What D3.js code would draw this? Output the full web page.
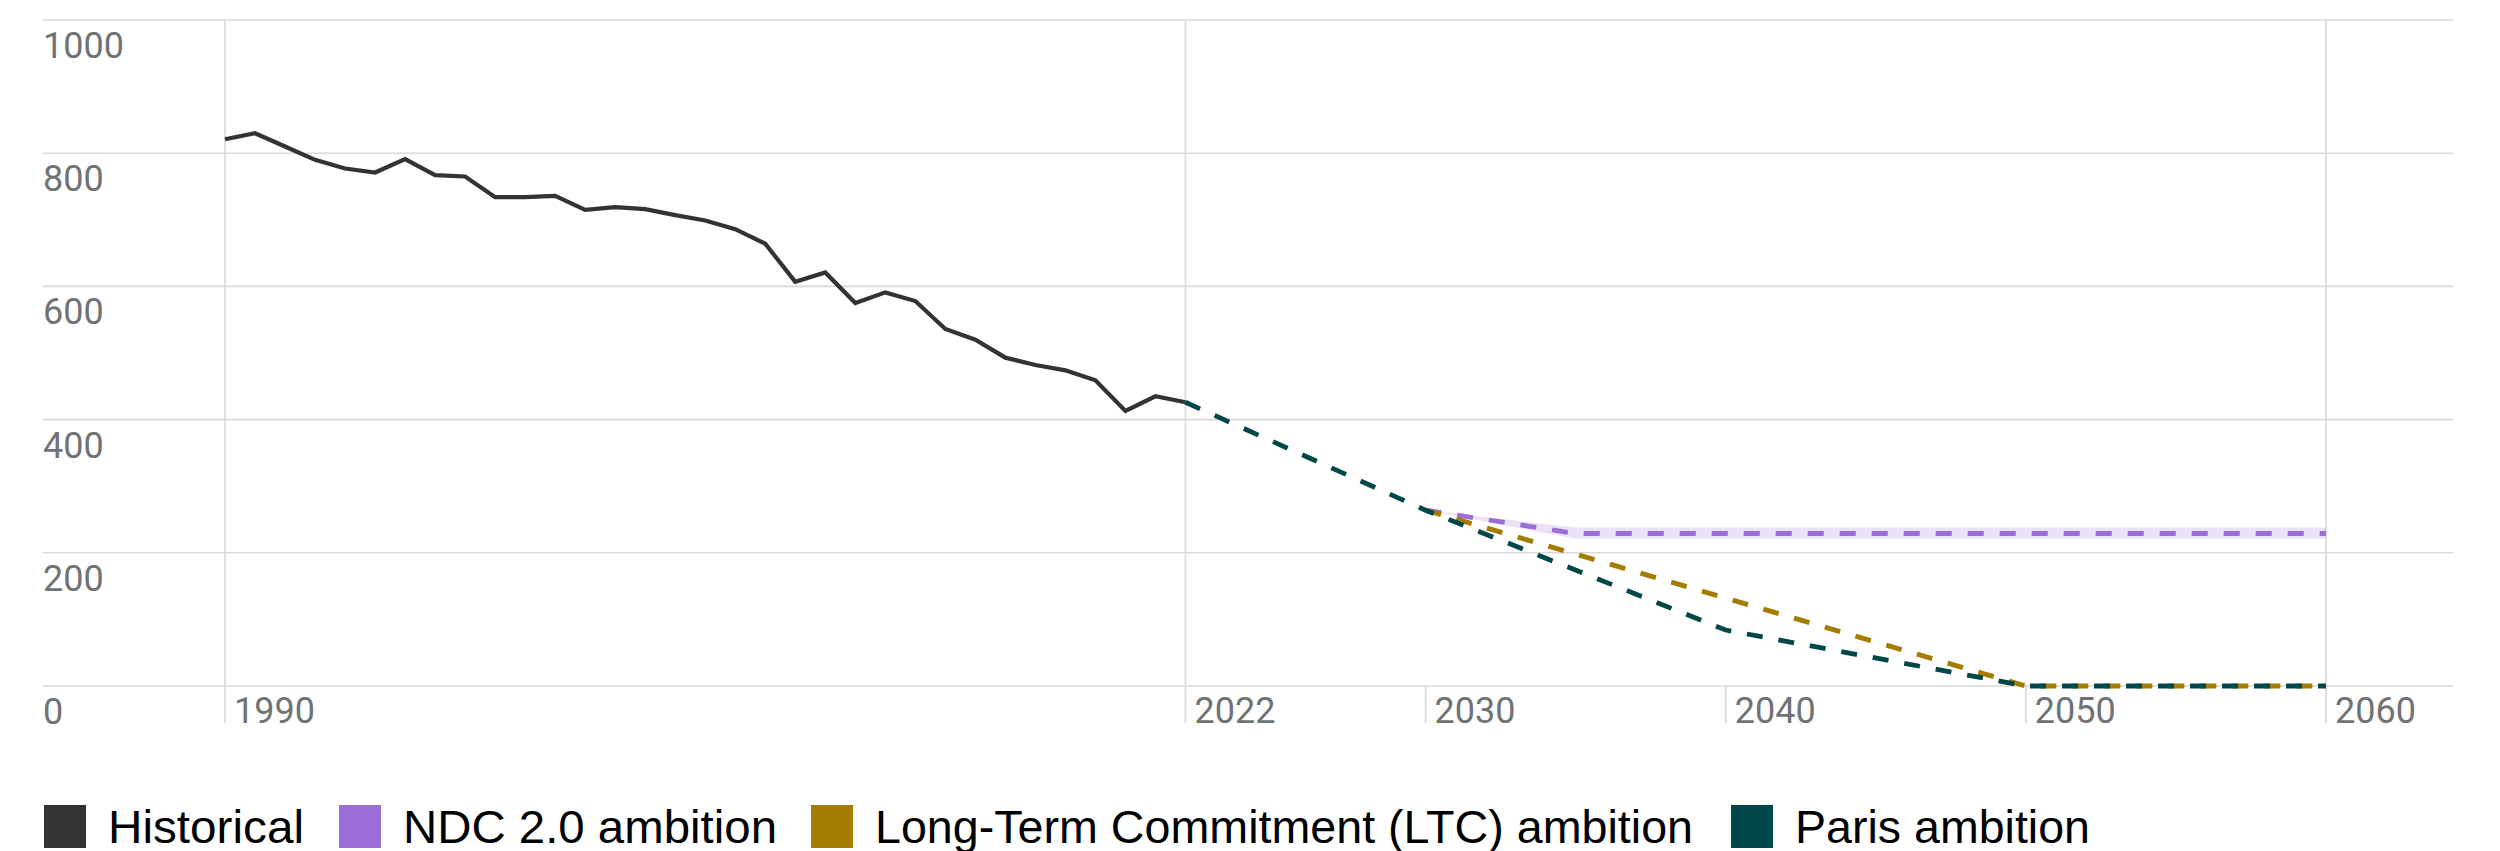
<!DOCTYPE html>
<html>
<head>
<meta charset="utf-8">
<script src="https://cdn.jsdelivr.net/npm/d3@7"></script>
<style>
  html, body { margin: 0; padding: 0; background: #fff; }
  svg { display: block; }
</style>
</head>
<body>
<svg id="chart" width="2500" height="851"></svg>
<script>
// ---- Data ----
const histYears = [1990,1991,1992,1993,1994,1995,1996,1997,1998,1999,2000,2001,2002,2003,2004,2005,2006,2007,2008,2009,2010,2011,2012,2013,2014,2015,2016,2017,2018,2019,2020,2021,2022];
const histValues = [821,830,810,790,777,771,791,767,765,734,734,736,715,719,716,707,699,686,664,607,621,575,591,578,536,520,493,482,474,459,413,435,426];

const parisYears = [2022, 2030, 2040, 2050, 2060];
const parisValues = [426, 264, 84, 0, 0];

const ltcYears = [2030, 2050, 2060];
const ltcValues = [264, 0, 0];

const ndcYears = [2030, 2035, 2060];
const ndcValues = [264, 229, 229];
const ndcLow = [264, 221, 221];
const ndcHigh = [264, 238, 238];

const yTicks = [0, 200, 400, 600, 800, 1000];
const xTicks = [1990, 2022, 2030, 2040, 2050, 2060];
const xFullLines = [1990, 2022, 2060];

const legendLabels = ["Historical", "NDC 2.0 ambition", "Long-Term Commitment (LTC) ambition", "Paris ambition"];
const legendColors = ["#333333", "#9b6dd6", "#a37c00", "#00474a"];

// ---- Layout (pixels) ----
const legendSquareX = [44, 339, 811, 1731];
const legendTextWidth = [196, 374, 818, 295];

// ---- Scales ----
const svg = d3.select("#chart");
const x = d3.scaleLinear().domain([1990, 2060]).range([225, 2326]);
const y = d3.scaleLinear().domain([0, 1000]).range([686, 20]);
const gridLeft = 43, gridRight = 2453;
const tickBottom = 723;
const gridColor = "#d9d9d9";
const tickFont = "Roboto, 'Open Sans', sans-serif";
const tickColor = "#707376";

// ---- Horizontal gridlines & y labels ----
const yAxis = svg.append("g");
yAxis.selectAll("line").data(yTicks).join("line")
  .attr("x1", gridLeft).attr("x2", gridRight)
  .attr("y1", d => y(d)).attr("y2", d => y(d))
  .attr("stroke", gridColor).attr("stroke-width", 1.6);
yAxis.selectAll("text").data(yTicks).join("text")
  .attr("x", gridLeft).attr("y", d => y(d) + 38)
  .attr("font-family", tickFont).attr("font-size", 36)
  .attr("fill", tickColor)
  .text(d => d);

// ---- Vertical lines / x ticks ----
const xAxis = svg.append("g");
xAxis.selectAll("line").data(xTicks).join("line")
  .attr("x1", d => x(d)).attr("x2", d => x(d))
  .attr("y1", d => xFullLines.includes(d) ? y(1000) : y(0))
  .attr("y2", tickBottom)
  .attr("stroke", gridColor).attr("stroke-width", 1.6);
xAxis.selectAll("text").data(xTicks).join("text")
  .attr("x", d => x(d) + 9).attr("y", tickBottom)
  .attr("font-family", tickFont).attr("font-size", 36)
  .attr("fill", tickColor)
  .text(d => d);

// ---- NDC band ----
const ndcBand = ndcYears.map((yr, i) => ({yr, lo: ndcLow[i], hi: ndcHigh[i]}));
svg.append("path")
  .datum(ndcBand)
  .attr("d", d3.area().x(d => x(d.yr)).y0(d => y(d.lo)).y1(d => y(d.hi)))
  .attr("fill", "#9b6dd6").attr("fill-opacity", 0.2);

// ---- Lines ----
const lineGen = d3.line().x(d => x(d[0])).y(d => y(d[1]));
const zip = (a, b) => a.map((v, i) => [v, b[i]]);

svg.append("path").datum(zip(histYears, histValues))
  .attr("d", lineGen).attr("fill", "none")
  .attr("stroke", legendColors[0]).attr("stroke-width", 4.2)
  .attr("stroke-linejoin", "miter");

svg.append("path").datum(zip(ndcYears, ndcValues))
  .attr("d", lineGen).attr("fill", "none")
  .attr("stroke", legendColors[1]).attr("stroke-width", 4.8)
  .attr("stroke-dasharray", "16,16");

svg.append("path").datum(zip(ltcYears, ltcValues))
  .attr("d", lineGen).attr("fill", "none")
  .attr("stroke", legendColors[2]).attr("stroke-width", 4.8)
  .attr("stroke-dasharray", "16,16");

svg.append("path").datum(zip(parisYears, parisValues))
  .attr("d", lineGen).attr("fill", "none")
  .attr("stroke", legendColors[3]).attr("stroke-width", 4.8)
  .attr("stroke-dasharray", "16,16");

// ---- Legend ----
const legend = svg.append("g");
legendLabels.forEach((lab, i) => {
  const lx = legendSquareX[i];
  legend.append("rect")
    .attr("x", lx).attr("y", 805).attr("width", 42).attr("height", 43)
    .attr("fill", legendColors[i]);
  legend.append("text")
    .attr("x", lx + 42 + 22).attr("y", 843)
    .attr("font-family", "'Liberation Sans', Arial, sans-serif")
    .attr("font-size", 47).attr("fill", "#000")
    .attr("textLength", legendTextWidth[i])
    .attr("lengthAdjust", "spacingAndGlyphs")
    .text(lab);
});
</script>
</body>
</html>
